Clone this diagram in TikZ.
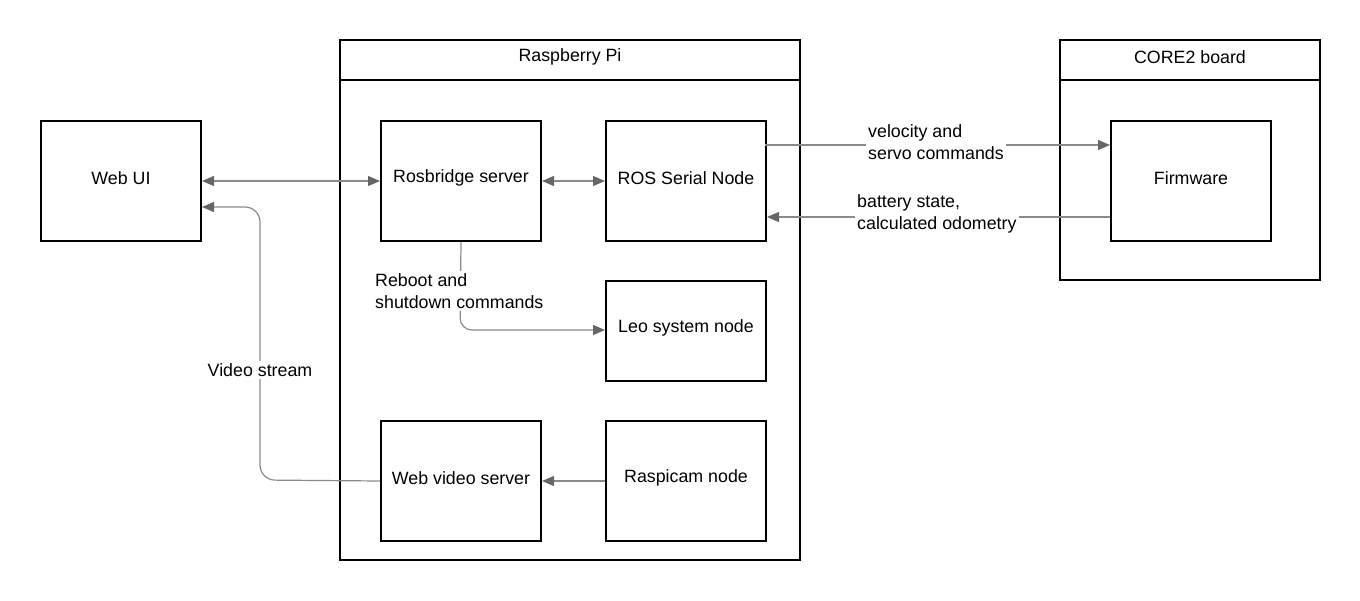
\documentclass[tikz,border=0pt]{standalone}
\usepackage{fontspec}
\setmainfont{Liberation Sans}
\usetikzlibrary{arrows.meta}
\definecolor{linegray}{HTML}{8A8A8A}
\definecolor{tipgray}{HTML}{666666}
\begin{document}
\begin{tikzpicture}[x=1pt,y=-1pt,
  font=\fontsize{17.8}{22.5}\selectfont,
  box/.style={draw=black,line width=2pt,minimum width=160pt,minimum height=120pt,inner sep=0pt,anchor=north west},
  smallbox/.style={box,minimum height=100pt},
  conn/.style={draw=linegray,line width=1.2pt,-{Triangle[length=12pt,width=10pt,color=tipgray]}},
  conn2/.style={conn,{Triangle[length=12pt,width=10pt,color=tipgray]}-{Triangle[length=12pt,width=10pt,color=tipgray]}},
  lbl/.style={fill=white,inner sep=2pt,align=left},
  txt/.style={yshift=3pt}
]
\useasboundingbox (0,0) rectangle (1360,600);
% containers
\draw[line width=2pt] (340,40) rectangle (800,560);
\draw[line width=2pt] (340,80) -- (800,80);
\node (rpi) at (570,57) {Raspberry Pi};
\draw[line width=2pt] (1060,40) rectangle (1320,280);
\draw[line width=2pt] (1060,80) -- (1320,80);
\node (core) at (1190,57) {CORE2 board};
% nodes
\node[box] (webui) at (40,120) {};
\node[txt] at (webui.center) {Web UI};
\node[box] (rosb) at (380,120) {};
\node[txt] at (rosb.center) {Rosbridge server};
\node[box] (ross) at (605,120) {};
\node[txt] at (ross.center) {ROS Serial Node};
\node[smallbox] (leo) at (605,280) {};
\node[txt] at (leo.center) {Leo system node};
\node[box] (wvs) at (380,420) {};
\node[txt] at (wvs.center) {Web video server};
\node[box] (cam) at (605,420) {};
\node[txt] at (cam.center) {Raspicam node};
\node[box] (fw) at (1110,120) {};
\node[txt] at (fw.center) {Firmware};
% connectors
\draw[conn2] (webui.east) -- (rosb.west);
\draw[conn2] (rosb.east) -- (ross.west);
\draw[conn] (cam.west) -- (wvs.east);
\coordinate (vs1) at (260,480);
\coordinate (vs2) at (260,207);
\draw[conn,rounded corners=15pt] (wvs.west) -- (vs1) -- (vs2) -- (webui.east |- vs2);
\node[lbl] (vslbl) at (260,370) {Video stream};
\coordinate (rb1) at (460,330);
\draw[conn,rounded corners=12pt] (rosb.south) -- (rb1) -- (leo.west |- rb1);
\node[lbl,anchor=west] (rblbl) at (373,291) {Reboot and\\shutdown commands};
\coordinate (v1) at (765,145);
\draw[conn] (v1) -- (fw.west |- v1);
\node[lbl,anchor=west] (vlbl) at (866,142) {velocity and\\servo commands};
\coordinate (b1) at (1110,217);
\draw[conn] (b1) -- (ross.east |- b1);
\node[lbl,anchor=west] (blbl) at (855,214) {battery state,\\calculated odometry};
\end{tikzpicture}
\end{document}
